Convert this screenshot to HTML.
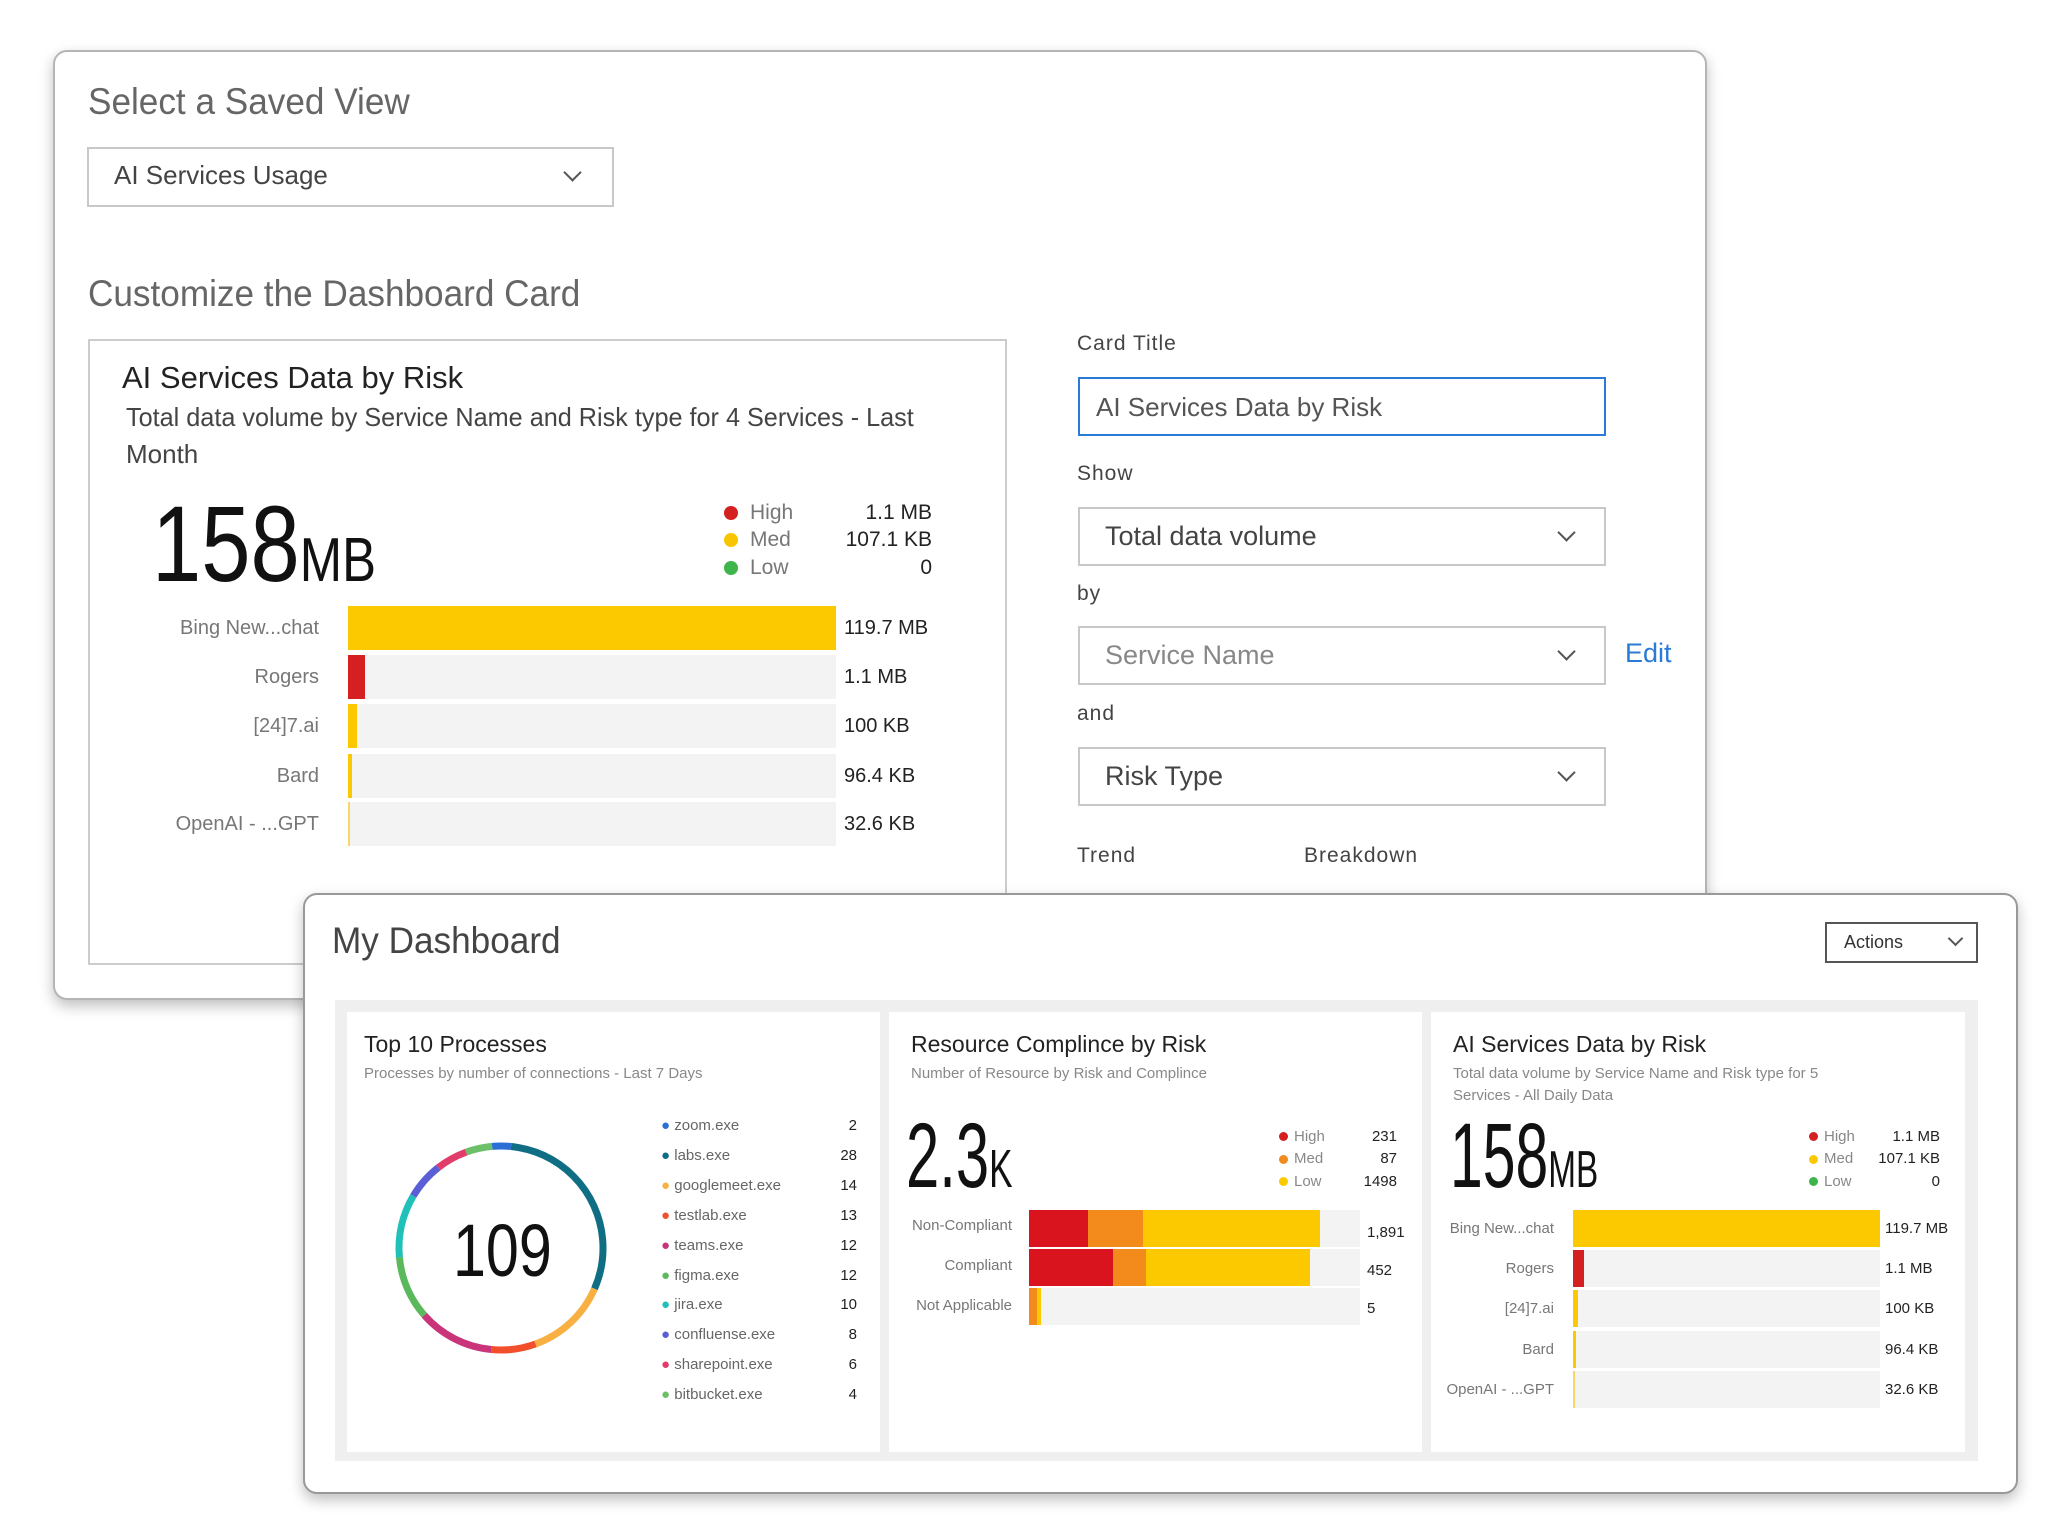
<!DOCTYPE html>
<html><head><meta charset="utf-8"><style>
*{margin:0;padding:0;box-sizing:border-box}
body{width:2048px;height:1536px;background:#fff;position:relative;overflow:hidden;font-family:"Liberation Sans Narrow","Liberation Sans",sans-serif;color:#333}
.a{position:absolute}
.t{position:absolute;white-space:nowrap;line-height:1}
.r{text-align:right}
.card{position:absolute;background:#fff;border:2px solid #b5b5b5;border-radius:14px;box-shadow:0 6px 14px rgba(0,0,0,.25)}
.dd{position:absolute;border:2px solid #c8c8c8;background:#fff}
.chev{position:absolute;width:13px;height:13px;border-right:2.5px solid #555;border-bottom:2.5px solid #555;transform:rotate(45deg)}
.dot{position:absolute;border-radius:50%}
.trk{position:absolute;background:#f3f3f3}
.bar{position:absolute}
.sx{transform-origin:left center}
</style></head><body>

<!-- back card -->
<div class="card" style="left:53px;top:50px;width:1654px;height:950px"></div>
<div class="t sx" style="left:88px;top:83px;font-size:37px;color:#666;transform:scaleX(0.95)">Select a Saved View</div>
<div class="dd" style="left:87px;top:147px;width:527px;height:60px"></div>
<div class="t" style="left:114px;top:162px;font-size:26px;color:#444">AI Services Usage</div>
<div class="chev" style="left:566px;top:166px"></div>
<div class="t sx" style="left:88px;top:275px;font-size:37px;color:#666;transform:scaleX(0.95)">Customize the Dashboard Card</div>

<div class="a" style="left:88px;top:339px;width:919px;height:626px;border:2px solid #ccc;background:#fff"></div>
<div class="t" style="left:122px;top:362px;font-size:31px;color:#222">AI Services Data by Risk</div>
<div class="t sx" style="left:126px;top:404px;font-size:26px;color:#444;transform:scaleX(0.97)">Total data volume by Service Name and Risk type for 4 Services - Last</div>
<div class="t" style="left:126px;top:441px;font-size:26px;color:#444">Month</div>
<div class="t sx" style="left:152px;top:490px;font-size:108px;color:#111;transform:scaleX(0.82)">158<span style="font-size:62px">MB</span></div>
<div class="dot" style="left:724px;top:506px;width:14px;height:14px;background:#d42020"></div>
<div class="dot" style="left:724px;top:533px;width:14px;height:14px;background:#f7c600"></div>
<div class="dot" style="left:724px;top:561px;width:14px;height:14px;background:#3db54a"></div>
<div class="t" style="left:750px;top:502px;font-size:21px;color:#777">High</div>
<div class="t" style="left:750px;top:529px;font-size:21px;color:#777">Med</div>
<div class="t" style="left:750px;top:557px;font-size:21px;color:#777">Low</div>
<div class="t r" style="left:800px;width:132px;top:502px;font-size:21px;color:#222">1.1 MB</div>
<div class="t r" style="left:800px;width:132px;top:529px;font-size:21px;color:#222">107.1 KB</div>
<div class="t r" style="left:800px;width:132px;top:557px;font-size:21px;color:#222">0</div>

<div class="trk" style="left:348px;top:606px;width:488px;height:44px"></div>
<div class="bar" style="left:348px;top:606px;width:488px;height:44px;background:#fcc800"></div>
<div class="trk" style="left:348px;top:655px;width:488px;height:44px"></div>
<div class="bar" style="left:348px;top:655px;width:17px;height:44px;background:#d42020"></div>
<div class="trk" style="left:348px;top:704px;width:488px;height:44px"></div>
<div class="bar" style="left:348px;top:704px;width:9px;height:44px;background:#fcc800"></div>
<div class="trk" style="left:348px;top:754px;width:488px;height:44px"></div>
<div class="bar" style="left:348px;top:754px;width:4px;height:44px;background:#fcc800"></div>
<div class="trk" style="left:348px;top:802px;width:488px;height:44px"></div>
<div class="bar" style="left:348px;top:802px;width:2px;height:44px;background:#f6d86a"></div>
<div class="t r" style="left:100px;width:219px;top:618px;font-size:20px;color:#777">Bing New...chat</div>
<div class="t r" style="left:100px;width:219px;top:667px;font-size:20px;color:#777">Rogers</div>
<div class="t r" style="left:100px;width:219px;top:716px;font-size:20px;color:#777">[24]7.ai</div>
<div class="t r" style="left:100px;width:219px;top:766px;font-size:20px;color:#777">Bard</div>
<div class="t r" style="left:100px;width:219px;top:814px;font-size:20px;color:#777">OpenAI - ...GPT</div>
<div class="t" style="left:844px;top:618px;font-size:20px;color:#222">119.7 MB</div>
<div class="t" style="left:844px;top:667px;font-size:20px;color:#222">1.1 MB</div>
<div class="t" style="left:844px;top:716px;font-size:20px;color:#222">100 KB</div>
<div class="t" style="left:844px;top:766px;font-size:20px;color:#222">96.4 KB</div>
<div class="t" style="left:844px;top:814px;font-size:20px;color:#222">32.6 KB</div>

<div class="t" style="left:1077px;top:333px;font-size:21px;color:#444;letter-spacing:1px">Card Title</div>
<div class="a" style="left:1078px;top:377px;width:528px;height:59px;border:2px solid #2a7bd6"></div>
<div class="t" style="left:1096px;top:394px;font-size:26px;color:#555">AI Services Data by Risk</div>
<div class="t" style="left:1077px;top:463px;font-size:21px;color:#444;letter-spacing:1px">Show</div>
<div class="dd" style="left:1078px;top:507px;width:528px;height:59px"></div>
<div class="t" style="left:1105px;top:523px;font-size:27px;color:#444">Total data volume</div>
<div class="chev" style="left:1560px;top:526px"></div>
<div class="t" style="left:1077px;top:583px;font-size:21px;color:#444;letter-spacing:1px">by</div>
<div class="dd" style="left:1078px;top:626px;width:528px;height:59px"></div>
<div class="t" style="left:1105px;top:642px;font-size:27px;color:#888">Service Name</div>
<div class="chev" style="left:1560px;top:645px"></div>
<div class="t" style="left:1625px;top:640px;font-size:27px;color:#2a7bd6">Edit</div>
<div class="t" style="left:1077px;top:703px;font-size:21px;color:#444;letter-spacing:1px">and</div>
<div class="dd" style="left:1078px;top:747px;width:528px;height:59px"></div>
<div class="t" style="left:1105px;top:763px;font-size:27px;color:#444">Risk Type</div>
<div class="chev" style="left:1560px;top:766px"></div>
<div class="t" style="left:1077px;top:845px;font-size:21px;color:#444;letter-spacing:1px">Trend</div>
<div class="t" style="left:1304px;top:845px;font-size:21px;color:#444;letter-spacing:1px">Breakdown</div>

<!-- front card -->
<div class="card" style="left:303px;top:893px;width:1715px;height:601px;border-color:#999"></div>
<div class="t sx" style="left:332px;top:922px;font-size:37px;color:#444;transform:scaleX(0.95)">My Dashboard</div>
<div class="a" style="left:1825px;top:922px;width:153px;height:41px;border:2px solid #555"></div>
<div class="t" style="left:1844px;top:933px;font-size:18px;color:#333">Actions</div>
<div class="chev" style="left:1950px;top:933px;width:11px;height:11px;border-width:2px"></div>
<div class="a" style="left:335px;top:1000px;width:1643px;height:461px;background:#efefef"></div>
<div class="a" style="left:347px;top:1012px;width:533px;height:440px;background:#fff"></div>
<div class="a" style="left:889px;top:1012px;width:533px;height:440px;background:#fff"></div>
<div class="a" style="left:1431px;top:1012px;width:534px;height:440px;background:#fff"></div>

<!-- panel 1 -->
<div class="t" style="left:364px;top:1033px;font-size:23px;color:#222">Top 10 Processes</div>
<div class="t" style="left:364px;top:1066px;font-size:15px;color:#888">Processes by number of connections - Last 7 Days</div>
<svg class="a" style="left:391px;top:1138px" width="220" height="220" viewBox="0 0 220 220">
<g transform="rotate(-95 110 110)" fill="none" stroke-width="7">
<circle cx="110" cy="110" r="102" stroke="#2a6fd6" stroke-dasharray="19 622" stroke-dashoffset="0"/>
<circle cx="110" cy="110" r="102" stroke="#0f6e84" stroke-dasharray="192 449" stroke-dashoffset="-19"/>
<circle cx="110" cy="110" r="102" stroke="#f7b041" stroke-dasharray="83 558" stroke-dashoffset="-211"/>
<circle cx="110" cy="110" r="102" stroke="#f2502c" stroke-dasharray="45 596" stroke-dashoffset="-294"/>
<circle cx="110" cy="110" r="102" stroke="#c8357a" stroke-dasharray="77 564" stroke-dashoffset="-339"/>
<circle cx="110" cy="110" r="102" stroke="#5cb85c" stroke-dasharray="64 577" stroke-dashoffset="-416"/>
<circle cx="110" cy="110" r="102" stroke="#1fc1b8" stroke-dasharray="64 577" stroke-dashoffset="-480"/>
<circle cx="110" cy="110" r="102" stroke="#5a5fd6" stroke-dasharray="38 603" stroke-dashoffset="-544"/>
<circle cx="110" cy="110" r="102" stroke="#e23d6a" stroke-dasharray="32 609" stroke-dashoffset="-582"/>
<circle cx="110" cy="110" r="102" stroke="#6cc06a" stroke-dasharray="27 614" stroke-dashoffset="-614"/>
</g></svg>
<div class="t sx" style="left:453px;top:1214px;font-size:74px;color:#111;transform:scaleX(0.8)">109</div>
<div style="position:absolute;left:661px;top:1111px;font-size:15px;color:#666;line-height:29.9px;width:196px">
<div><span style="color:#2a6fd6">●</span> zoom.exe<span style="float:right;color:#222">2</span></div>
<div><span style="color:#0f6e84">●</span> labs.exe<span style="float:right;color:#222">28</span></div>
<div><span style="color:#f7b041">●</span> googlemeet.exe<span style="float:right;color:#222">14</span></div>
<div><span style="color:#f2502c">●</span> testlab.exe<span style="float:right;color:#222">13</span></div>
<div><span style="color:#c8357a">●</span> teams.exe<span style="float:right;color:#222">12</span></div>
<div><span style="color:#5cb85c">●</span> figma.exe<span style="float:right;color:#222">12</span></div>
<div><span style="color:#1fc1b8">●</span> jira.exe<span style="float:right;color:#222">10</span></div>
<div><span style="color:#5a5fd6">●</span> confluense.exe<span style="float:right;color:#222">8</span></div>
<div><span style="color:#e23d6a">●</span> sharepoint.exe<span style="float:right;color:#222">6</span></div>
<div><span style="color:#6cc06a">●</span> bitbucket.exe<span style="float:right;color:#222">4</span></div>
</div>

<!-- panel 2 -->
<div class="t" style="left:911px;top:1033px;font-size:23px;color:#222">Resource Complince by Risk</div>
<div class="t" style="left:911px;top:1066px;font-size:15px;color:#888">Number of Resource by Risk and Complince</div>
<div class="t sx" style="left:906px;top:1110px;font-size:92px;color:#111;transform:scaleX(0.65)">2.3<span style="font-size:54px">K</span></div>
<div class="dot" style="left:1279px;top:1132px;width:9px;height:9px;background:#d42020"></div>
<div class="dot" style="left:1279px;top:1155px;width:9px;height:9px;background:#f28a1c"></div>
<div class="dot" style="left:1279px;top:1177px;width:9px;height:9px;background:#fcc800"></div>
<div class="t" style="left:1294px;top:1129px;font-size:15px;color:#888">High</div>
<div class="t" style="left:1294px;top:1151px;font-size:15px;color:#888">Med</div>
<div class="t" style="left:1294px;top:1174px;font-size:15px;color:#888">Low</div>
<div class="t r" style="left:1330px;width:67px;top:1129px;font-size:15px;color:#222">231</div>
<div class="t r" style="left:1330px;width:67px;top:1151px;font-size:15px;color:#222">87</div>
<div class="t r" style="left:1330px;width:67px;top:1174px;font-size:15px;color:#222">1498</div>
<div class="trk" style="left:1029px;top:1210px;width:331px;height:37px"></div>
<div class="bar" style="left:1029px;top:1210px;width:59px;height:37px;background:#d9141e"></div>
<div class="bar" style="left:1088px;top:1210px;width:55px;height:37px;background:#f28a1c"></div>
<div class="bar" style="left:1143px;top:1210px;width:177px;height:37px;background:#fcc800"></div>
<div class="trk" style="left:1029px;top:1249px;width:331px;height:37px"></div>
<div class="bar" style="left:1029px;top:1249px;width:84px;height:37px;background:#d9141e"></div>
<div class="bar" style="left:1113px;top:1249px;width:33px;height:37px;background:#f28a1c"></div>
<div class="bar" style="left:1146px;top:1249px;width:164px;height:37px;background:#fcc800"></div>
<div class="trk" style="left:1029px;top:1288px;width:331px;height:37px"></div>
<div class="bar" style="left:1029px;top:1288px;width:8px;height:37px;background:#f28a1c"></div>
<div class="bar" style="left:1037px;top:1288px;width:4px;height:37px;background:#fcc800"></div>
<div class="t r" style="left:880px;width:132px;top:1218px;font-size:15px;color:#777">Non-Compliant</div>
<div class="t r" style="left:880px;width:132px;top:1258px;font-size:15px;color:#777">Compliant</div>
<div class="t r" style="left:880px;width:132px;top:1298px;font-size:15px;color:#777">Not Applicable</div>
<div class="t" style="left:1367px;top:1225px;font-size:15px;color:#222">1,891</div>
<div class="t" style="left:1367px;top:1263px;font-size:15px;color:#222">452</div>
<div class="t" style="left:1367px;top:1301px;font-size:15px;color:#222">5</div>

<!-- panel 3 -->
<div class="t" style="left:1453px;top:1033px;font-size:23px;color:#222">AI Services Data by Risk</div>
<div class="t" style="left:1453px;top:1066px;font-size:15px;color:#888">Total data volume by Service Name and Risk type for 5</div>
<div class="t" style="left:1453px;top:1088px;font-size:15px;color:#888">Services - All Daily Data</div>
<div class="t sx" style="left:1450px;top:1110px;font-size:92px;color:#111;transform:scaleX(0.64)">158<span style="font-size:52px">MB</span></div>
<div class="dot" style="left:1809px;top:1132px;width:9px;height:9px;background:#d42020"></div>
<div class="dot" style="left:1809px;top:1155px;width:9px;height:9px;background:#fcc800"></div>
<div class="dot" style="left:1809px;top:1177px;width:9px;height:9px;background:#3db54a"></div>
<div class="t" style="left:1824px;top:1129px;font-size:15px;color:#888">High</div>
<div class="t" style="left:1824px;top:1151px;font-size:15px;color:#888">Med</div>
<div class="t" style="left:1824px;top:1174px;font-size:15px;color:#888">Low</div>
<div class="t r" style="left:1860px;width:80px;top:1129px;font-size:15px;color:#222">1.1 MB</div>
<div class="t r" style="left:1860px;width:80px;top:1151px;font-size:15px;color:#222">107.1 KB</div>
<div class="t r" style="left:1860px;width:80px;top:1174px;font-size:15px;color:#222">0</div>
<div class="trk" style="left:1573px;top:1210px;width:307px;height:37px"></div>
<div class="bar" style="left:1573px;top:1210px;width:307px;height:37px;background:#fcc800"></div>
<div class="trk" style="left:1573px;top:1250px;width:307px;height:37px"></div>
<div class="bar" style="left:1573px;top:1250px;width:11px;height:37px;background:#d42020"></div>
<div class="trk" style="left:1573px;top:1290px;width:307px;height:37px"></div>
<div class="bar" style="left:1573px;top:1290px;width:5px;height:37px;background:#fcc800"></div>
<div class="trk" style="left:1573px;top:1331px;width:307px;height:37px"></div>
<div class="bar" style="left:1573px;top:1331px;width:3px;height:37px;background:#fcc800"></div>
<div class="trk" style="left:1573px;top:1371px;width:307px;height:37px"></div>
<div class="bar" style="left:1573px;top:1371px;width:2px;height:37px;background:#f6d86a"></div>
<div class="t r" style="left:1430px;width:124px;top:1221px;font-size:15px;color:#777">Bing New...chat</div>
<div class="t r" style="left:1430px;width:124px;top:1261px;font-size:15px;color:#777">Rogers</div>
<div class="t r" style="left:1430px;width:124px;top:1301px;font-size:15px;color:#777">[24]7.ai</div>
<div class="t r" style="left:1430px;width:124px;top:1342px;font-size:15px;color:#777">Bard</div>
<div class="t r" style="left:1430px;width:124px;top:1382px;font-size:15px;color:#777">OpenAI - ...GPT</div>
<div class="t" style="left:1885px;top:1221px;font-size:15px;color:#222">119.7 MB</div>
<div class="t" style="left:1885px;top:1261px;font-size:15px;color:#222">1.1 MB</div>
<div class="t" style="left:1885px;top:1301px;font-size:15px;color:#222">100 KB</div>
<div class="t" style="left:1885px;top:1342px;font-size:15px;color:#222">96.4 KB</div>
<div class="t" style="left:1885px;top:1382px;font-size:15px;color:#222">32.6 KB</div>
</body></html>
